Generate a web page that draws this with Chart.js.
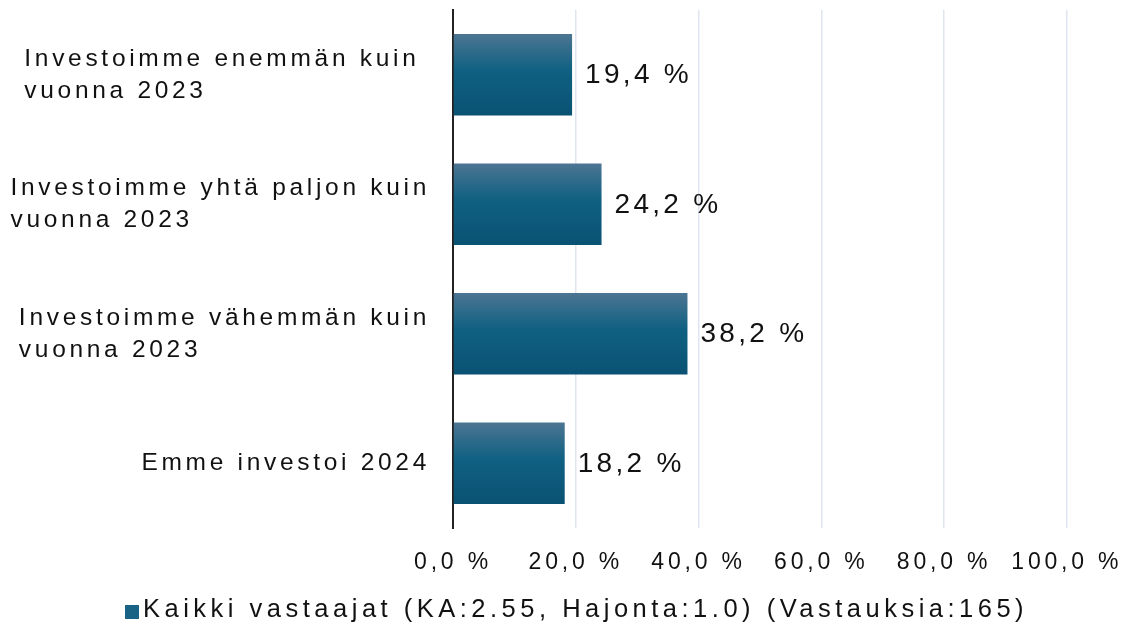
<!DOCTYPE html>
<html><head><meta charset="utf-8">
<script src="https://cdn.jsdelivr.net/npm/chart.js@4"></script>
<style>html,body{margin:0;padding:0;background:#fff}#wrap{width:1130px;height:630px;position:relative}</style>
</head><body><div id="wrap"><canvas id="c"></canvas></div>
<script>
const categories = [
  ["Investoimme enemmän kuin ", "vuonna 2023"],
  ["Investoimme yhtä paljon kuin", "vuonna 2023"],
  ["Investoimme vähemmän kuin", "vuonna 2023"],
  ["Emme investoi 2024"]
];
const values = [19.4, 24.2, 38.2, 18.2];
const seriesName = "Kaikki vastaajat (KA:2.55, Hajonta:1.0) (Vastauksia:165)";
const xTicks = [0, 20, 40, 60, 80, 100];

const FONT = "'Liberation Sans', Arial, Helvetica, sans-serif";
const BAR_PCT = 0.63;

function fmt(v) { return v.toFixed(1).replace('.', ',') + ' %'; }

function barGradient(c) {
  const ch = c.chart;
  const ys = ch.scales && ch.scales.y;
  if (c.type !== 'data' || !ys || !ch.chartArea) return '#165f80';
  const yc = ys.getPixelForValue(c.dataIndex);
  const h = (ys.bottom - ys.top) / categories.length * BAR_PCT;
  const g = ch.ctx.createLinearGradient(0, yc - h / 2, 0, yc + h / 2);
  g.addColorStop(0, '#4c7592');
  g.addColorStop(0.45, '#0f6082');
  g.addColorStop(1, '#0a5274');
  return g;
}

const spacing = {
  id: 'spacing',
  beforeDraw(chart) { chart.ctx.letterSpacing = '3.8px'; }
};

const valueLabels = {
  id: 'valueLabels',
  afterDatasetsDraw(chart) {
    const ctx = chart.ctx;
    const meta = chart.getDatasetMeta(0);
    ctx.save();
    ctx.letterSpacing = '3.3px';
    ctx.font = "28px " + FONT;
    ctx.fillStyle = '#111';
    ctx.textAlign = 'left';
    ctx.textBaseline = 'middle';
    meta.data.forEach((el, i) => {
      ctx.fillText(fmt(values[i]), el.x + 13, el.y + 1);
    });
    ctx.restore();
  }
};

const catLabels = {
  id: 'catLabels',
  afterDraw(chart) {
    const ctx = chart.ctx;
    const ys = chart.scales.y;
    ctx.save();
    ctx.letterSpacing = '3.7px';
    ctx.font = "24.5px " + FONT;
    ctx.fillStyle = '#111';
    ctx.textAlign = 'left';
    ctx.textBaseline = 'middle';
    const lh = 32;
    categories.forEach((lines, i) => {
      const yc = ys.getPixelForValue(i);
      const w = Math.max(...lines.map(l => ctx.measureText(l).width));
      const x = 430 - w;
      const y0 = yc - (lines.length - 1) * lh / 2;
      lines.forEach((l, k) => ctx.fillText(l, x, y0 + k * lh));
    });
    ctx.restore();
  }
};

const legendPlugin = {
  id: 'customLegend',
  afterDraw(chart) {
    const ctx = chart.ctx;
    ctx.save();
    ctx.letterSpacing = '4.5px';
    ctx.font = "25.5px " + FONT;
    const box = 14, gap = 4;
    const x0 = 125;
    const yc = 610;
    ctx.fillStyle = '#1a6384';
    ctx.fillRect(x0, yc - box / 2 + 2, box, box);
    ctx.fillStyle = '#111';
    ctx.textBaseline = 'middle';
    ctx.textAlign = 'left';
    ctx.fillText(chart.data.datasets[0].label, x0 + box + gap, yc);
    ctx.restore();
  }
};

const canvas = document.getElementById('c');
const c2d = canvas.getContext('2d');

new Chart(c2d, {
  type: 'bar',
  data: {
    labels: categories,
    datasets: [{
      label: seriesName,
      data: values,
      backgroundColor: barGradient,
      borderWidth: 0,
      barPercentage: BAR_PCT,
      categoryPercentage: 1
    }]
  },
  options: {
    indexAxis: 'y',
    responsive: true,
    maintainAspectRatio: false,
    animation: false,
    devicePixelRatio: 1,
    layout: { padding: { top: 10, right: 62, bottom: 48, left: 0 } },
    plugins: { legend: { display: false }, tooltip: { enabled: false } },
    scales: {
      x: {
        min: 0, max: 100,
        afterBuildTicks(s) { s.ticks = xTicks.map(v => ({ value: v })); },
        afterFit(s) { s.height = 54; },
        ticks: {
          callback: v => fmt(v),
          color: '#111',
          font: { family: FONT, size: 23 },
          padding: 21,
          maxRotation: 0, autoSkip: false
        },
        grid: { color: '#dfe5ef', lineWidth: 1.5, drawTicks: false },
        border: { display: false }
      },
      y: {
        afterFit(s) { s.width = 453; },
        ticks: { display: false },
        grid: { display: false, drawTicks: false },
        border: { display: true, color: '#222', width: 2 }
      }
    }
  },
  plugins: [spacing, valueLabels, catLabels, legendPlugin]
});
</script>
</body></html>
